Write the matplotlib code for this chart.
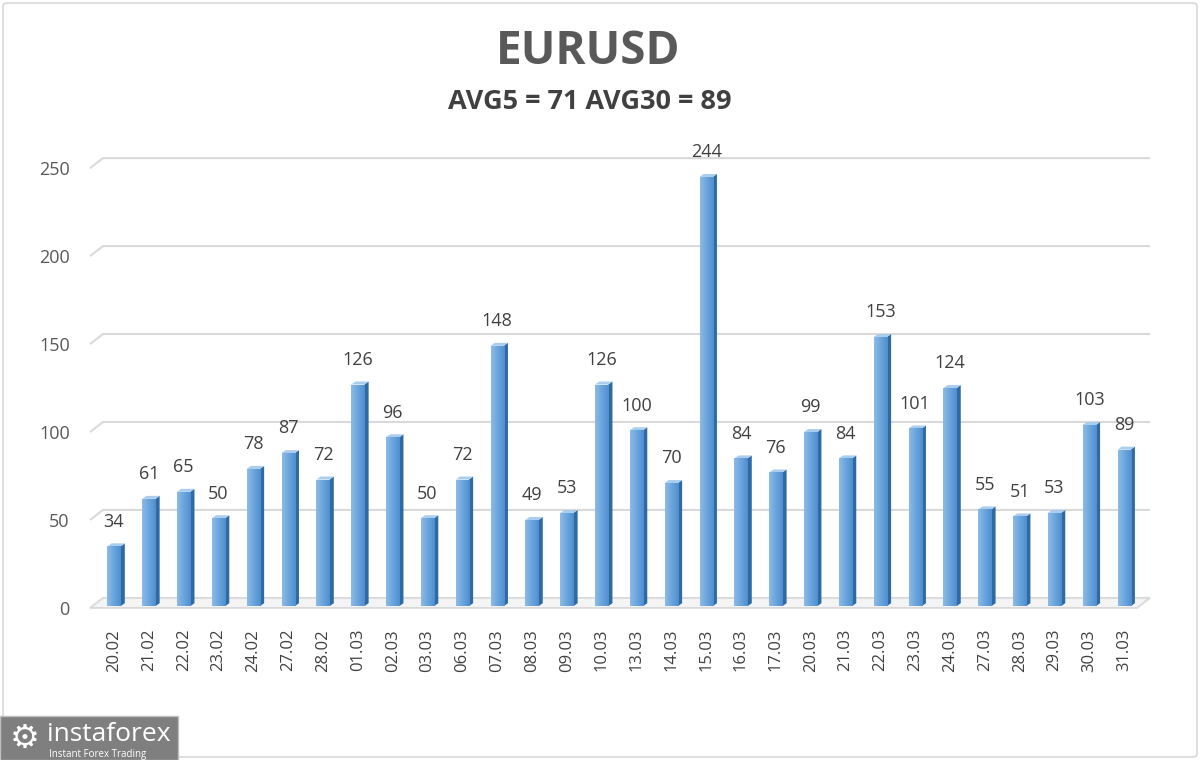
import numpy as np
import matplotlib.pyplot as plt
from matplotlib.patches import Polygon, Rectangle, FancyBboxPatch
from matplotlib.colors import LinearSegmentedColormap

dates = ["20.02", "21.02", "22.02", "23.02", "24.02", "27.02", "28.02", "01.03",
         "02.03", "03.03", "06.03", "07.03", "08.03", "09.03", "10.03", "13.03",
         "14.03", "15.03", "16.03", "17.03", "20.03", "21.03", "22.03", "23.03",
         "24.03", "27.03", "28.03", "29.03", "30.03", "31.03"]
values = [34, 61, 65, 50, 78, 87, 72, 126, 96, 50, 72, 148, 49, 53, 126, 100,
          70, 244, 84, 76, 99, 84, 153, 101, 124, 55, 51, 53, 103, 89]
yticks = [0, 50, 100, 150, 200, 250]
title = "EURUSD"
subtitle = "AVG5 = 71 AVG30 = 89"

plt.rcParams['font.family'] = ['Open Sans', 'DejaVu Sans']
TXT = "#404040"
GRID = "#d9d9d9"

fig = plt.figure(figsize=(12, 7.6), dpi=100)
# axes: left 85px, right 1160px, bottom 622px, top 140px
ax = fig.add_axes([85 / 1200, (760 - 622) / 760, 1075 / 1200, (622 - 140) / 760])
x = np.arange(len(values))
for s in ax.spines.values():
    s.set_visible(False)

# 3D wall offsets (data units)
bdx, bdy = 0.373, 5.7
fx0, fx1 = -0.69, 29.37

# floor
ax.add_patch(Polygon([(fx0, 0), (fx1, 0), (fx1 + bdx, bdy), (fx0 + bdx, bdy)],
                     closed=True, facecolor="#f4f4f4", edgecolor=GRID, lw=1.3, zorder=1))
# gridlines on back wall
for v in yticks[1:]:
    ax.plot([fx0, fx0 + bdx, fx1 + bdx], [v, v + bdy, v + bdy], color=GRID, lw=1.5,
            zorder=1, solid_capstyle="butt")

# bars: front face with gradient, darker side, light top
w, sdx, sdy, base = 0.38, 0.12, 1.7, 1.0
grad = np.linspace(0, 1, 64).reshape(1, -1)
cmap = LinearSegmentedColormap.from_list("bar", ["#8cbbe6", "#6aa5dc", "#4f8ecf"])
bars = ax.bar(x, values, width=w, bottom=base, color="#6aa5dc", zorder=3)
for xi, v, b in zip(x, values, bars):
    x0, x1 = xi - w / 2, xi + w / 2
    im = ax.imshow(grad, extent=[x0, x1, base, base + v], aspect="auto", cmap=cmap, zorder=3.1)
    im.set_clip_path(b)
    ax.add_patch(Polygon([(x1, base), (x1 + sdx, base + sdy), (x1 + sdx, base + v + sdy), (x1, base + v)],
                         closed=True, facecolor="#2f6aa3", edgecolor="none", zorder=3))
    ax.add_patch(Polygon([(x0, base + v), (x1, base + v), (x1 + sdx, base + v + sdy), (x0 + sdx, base + v + sdy)],
                         closed=True, facecolor="#a9cdef", edgecolor="none", zorder=3))
    ax.text(xi, v + 15, str(v), ha="center", va="center", fontsize=13, color=TXT, zorder=4)

ax.set_xlim(-0.833, 30.03)
ax.set_ylim(-8, 266)
ax.set_xticks(x)
ax.set_xticklabels(dates, rotation=90, fontsize=12, color=TXT)
ax.set_yticks(yticks)
ax.set_yticklabels([str(t) for t in yticks], fontsize=13, color="#595959")
ax.tick_params(axis="both", length=0)
ax.tick_params(axis="y", pad=11)
ax.tick_params(axis="x", pad=5)

fig.text(588 / 1200, 1 - 52 / 760, title, ha="center", va="center", fontsize=33,
         fontweight="bold", color="#595959")
fig.text(590 / 1200, 1 - 102 / 760, subtitle, ha="center", va="center", fontsize=19.5,
         fontweight="bold", color=TXT)

# chart border
fig.patches.append(FancyBboxPatch((3 / 1200, 3 / 760), 1194 / 1200, 754 / 760,
                                  boxstyle="round,pad=0,rounding_size=0.004",
                                  transform=fig.transFigure, facecolor="none",
                                  edgecolor=GRID, lw=1.2))

# watermark logo
fig.patches.append(Rectangle((0, 0), 178 / 1200, 44 / 760, transform=fig.transFigure,
                             facecolor="#7f7f7f", edgecolor="#bfbfbf", lw=1))
fig.text(25 / 1200, 1 - 738 / 760, "\u2699", ha="center", va="center", fontsize=24,
         color="white", family="DejaVu Sans")
fig.text(47 / 1200, 1 - 741 / 760, "instaforex", ha="left", va="baseline", fontsize=19,
         color="white")
fig.text(49 / 1200, 1 - 749 / 760, "Instant Forex Trading", ha="left", va="top",
         fontsize=7, color="white")

fig.savefig("out.png", dpi=100)
